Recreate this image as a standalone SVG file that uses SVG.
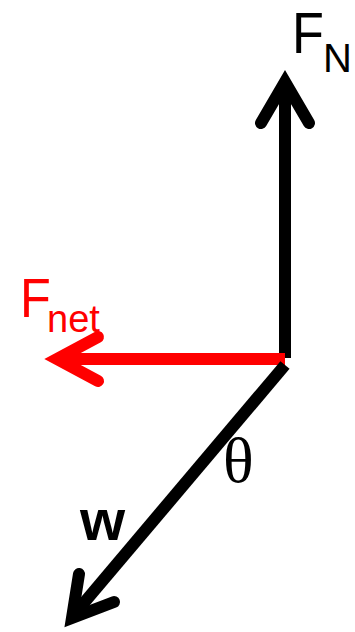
<svg xmlns="http://www.w3.org/2000/svg" width="355" height="632" viewBox="0 0 355 632">
<style>
.blk{stroke:#000;fill:none;stroke-width:12}
.red{stroke:#f00;fill:none;stroke-width:12}
.head{stroke-linecap:round;stroke-linejoin:miter;stroke-miterlimit:10}
.lbl{font-family:"Liberation Sans",Arial,sans-serif}
</style>
<rect width="355" height="632" fill="#fff"/>
<g id="connectors">
<g id="normal-force">
<line class="blk" x1="285" y1="358" x2="285" y2="84"/>
<polyline class="blk head" points="261,123 285,82 309,123"/>
</g>
<g id="net-force">
<line class="red" x1="285" y1="359" x2="58" y2="359"/>
<polyline class="red head" points="98,337 57,359 98,381"/>
</g>
<g id="weight">
<line class="blk" x1="285" y1="365" x2="72" y2="617"/>
<polyline class="blk head" points="79,574 72,618 114,602"/>
</g>
</g>
<g id="label-FN">
<text class="lbl" x="292" y="53" font-size="58" transform="translate(292 0) scale(0.9 1) translate(-292 0)">F</text>
<text class="lbl" x="323" y="72" font-size="40">N</text>
</g>
<g id="label-Fnet">
<text class="lbl" x="20" y="317" font-size="56" fill="#f00" transform="translate(20 0) scale(0.9 1) translate(-20 0)">F</text>
<text class="lbl" x="47" y="332" font-size="38" fill="#f00">net</text>
</g>
<g id="label-theta">
<text x="223" y="482" font-size="64" font-family="Liberation Serif,'Times New Roman',serif">θ</text>
</g>
<g id="label-w">
<text class="lbl" x="80" y="540" font-size="58" font-weight="bold">w</text>
</g>
</svg>
